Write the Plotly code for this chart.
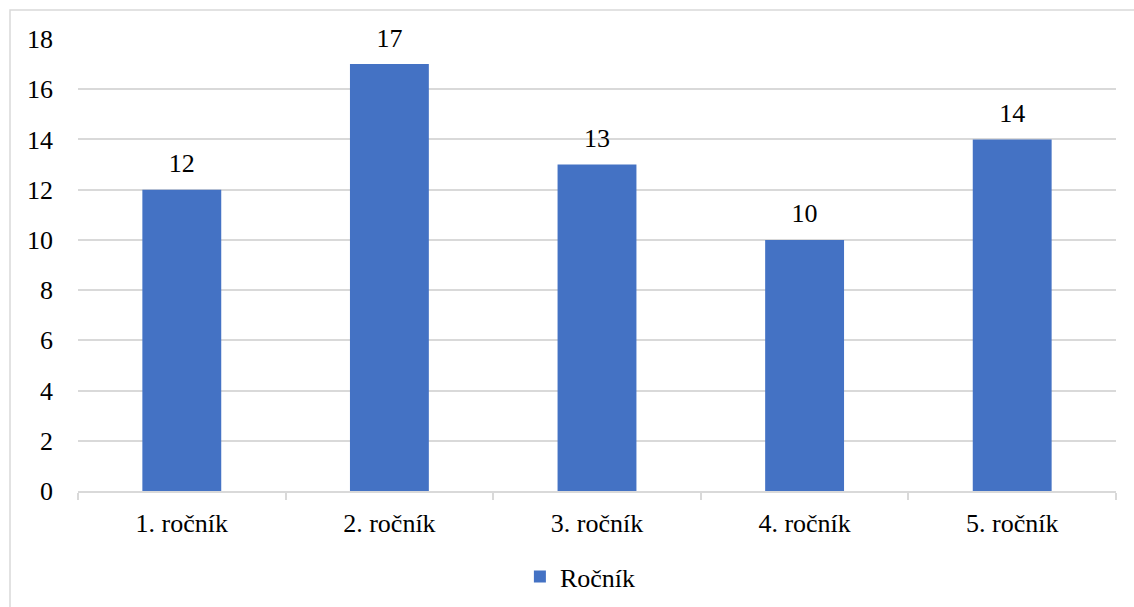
import plotly.graph_objects as go

categories = ["1. ročník", "2. ročník", "3. ročník", "4. ročník", "5. ročník"]
values = [12, 17, 13, 10, 14]
series_name = "Ročník"
y_ticks = [0, 2, 4, 6, 8, 10, 12, 14, 16, 18]

FONT = "Liberation Serif"
FS = 26

fig = go.Figure()
fig.add_trace(go.Bar(
    x=categories, y=values, name=series_name,
    marker=dict(color="#4472C4", line=dict(width=0)),
))
fig.add_trace(go.Scatter(
    x=categories, y=values, mode="markers+text", text=[str(v) for v in values],
    textposition="top center", showlegend=False, hoverinfo="skip",
    marker=dict(size=16, color="rgba(0,0,0,0)"), cliponaxis=False,
    textfont=dict(family=FONT, size=FS, color="#000000"),
))

fig.update_layout(
    width=1134, height=607,
    margin=dict(l=78, r=18, t=39, b=116, autoexpand=False),
    paper_bgcolor="white", plot_bgcolor="white",
    font=dict(family=FONT, size=FS, color="#000000"),
    bargap=0.62,
    showlegend=True,
    legend=dict(orientation="h", x=0.484, xanchor="center", yref="container", y=0.05, yanchor="middle",
                itemwidth=30,
                font=dict(family=FONT, size=FS, color="#000000")),
    shapes=[dict(type="rect", xref="paper", yref="paper",
                 x0=-0.0655, x1=1.2, y0=-0.5, y1=1.064,
                 line=dict(color="#d9d9d9", width=1.5), fillcolor="rgba(0,0,0,0)", layer="below")],
)
fig.update_xaxes(
    type="category", range=[-0.5, 4.5], automargin=False,
    showline=True, linecolor="#d9d9d9", linewidth=1.5,
    ticks="outside", tickson="boundaries", ticklen=7, tickcolor="#d9d9d9", tickwidth=1.5,
    ticklabelstandoff=8,
    showgrid=False,
    tickfont=dict(family=FONT, size=FS, color="#000000"),
)
fig.update_yaxes(
    range=[0, 18], tickvals=y_ticks, automargin=False,
    showgrid=True, gridcolor="#d9d9d9", gridwidth=1.5,
    zeroline=False, showline=False,
    ticks="", ticklabelstandoff=24,
    tickfont=dict(family=FONT, size=FS, color="#000000"),
)

fig.write_html("out.html")
